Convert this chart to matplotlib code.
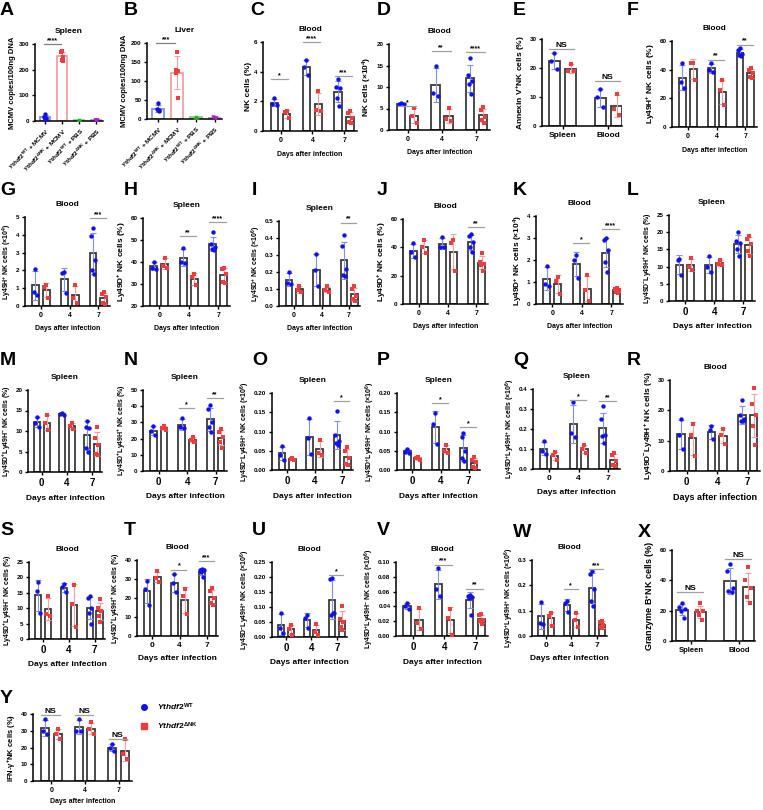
import numpy as np
import matplotlib
matplotlib.use('Agg')
import matplotlib.pyplot as plt
from matplotlib.lines import Line2D

plt.rcParams['font.family'] = ['Liberation Sans', 'DejaVu Sans']
plt.rcParams['font.weight'] = 'bold'
plt.rcParams['axes.labelweight'] = 'bold'
plt.rcParams['axes.titleweight'] = 'bold'
plt.rcParams['mathtext.fontset'] = 'custom'
plt.rcParams['mathtext.rm'] = 'Liberation Sans:bold'
plt.rcParams['mathtext.it'] = 'Liberation Sans:italic:bold'
plt.rcParams['mathtext.bf'] = 'Liberation Sans:bold'

W, H = 763, 810
WT_C, KO_C = '#1010f0', '#f03c3c'
WT_E, KO_E = '#8090f0', '#f4a0a0'

DAYS = ['0', '4', '7']
TISSUES = ['Spleen', 'Blood']
WT_LAB = r'$\mathit{Ythdf2}^{\mathrm{WT}}$'
KO_LAB = r'$\mathit{Ythdf2}^{\mathrm{\Delta NK}}$'

# ---- data: points per group, significance (group, text, y) ----
A_groups = [WT_LAB + ' + MCMV', KO_LAB + ' + MCMV', WT_LAB + ' + PBS', KO_LAB + ' + PBS']
A_pts = [[28, 15, 12, 8, 6], [272, 270, 250, 236, 232], [2.5, 3, 3.5], [2, 2.5, 3]]
B_pts = [[42, 27, 25, 23, 20], [176, 129, 127, 122, 56], [4, 4, 4.5], [3, 4, 3]]
A_sig = [(0.4, '****', 300)]
B_sig = [(0.4, '***', 200)]

C_wt = [[2.2, 1.8, 1.75], [4.8, 4.3, 3.8], [3.5, 3.0, 2.9, 2.2, 1.7]]
C_ko = [[1.35, 1.3, 0.85], [2.7, 1.4, 1.35], [1.35, 1.2, 0.9, 0.6, 0.55]]
C_sig = [(0, '*', 3.5), (1, '****', 6.0), (2, '***', 3.7)]

D_wt = [[6.2, 6.1, 6.0], [15.0, 8.5, 7.9], [16.8, 12.7, 11.4, 10.8, 8.4]]
D_ko = [[5.1, 3.3, 1.7], [5.1, 2.5, 2.0], [5.3, 4.6, 3.0, 2.4, 1.6]]
D_sig = [(0, '*', 5.6), (1, '**', 18.4), (2, '****', 18.1)]

E_wt = [[25.3, 22.3, 19.6], [12.7, 10.0, 6.5]]
E_ko = [[21.5, 18.9, 18.8], [11.2, 5.8, 3.8]]
E_sig = [(0, 'NS', 26.5), (1, 'NS', 15.5)]

F_wt = [[44.5, 31.5, 27.5], [44.5, 40.0, 38.5], [55, 53.5, 51, 50, 49.5]]
F_ko = [[45, 44.5, 32.5], [32.5, 25.5, 15.5], [41, 39.5, 37.5, 35, 34]]
F_sig = [(1, '**', 47), (2, '**', 57.4)]

G_wt = [[2.1, 0.8, 0.6], [1.9, 1.85, 0.75], [4.4, 3.95, 2.6, 2.0, 1.8]]
G_ko = [[1.2, 1.05, 0.45], [1.2, 0.45, 0.15], [0.8, 0.65, 0.5, 0.15, 0.1]]
G_sig = [(2, '***', 4.94)]

H_wt = [[40, 37.5, 37.0], [46.5, 40, 39.5], [53.5, 48, 47, 46, 45.5]]
H_ko = [[42, 38, 37.5], [34.5, 33, 29.5], [37.5, 37, 34.5, 31, 30.5]]
H_sig = [(1, '**', 51.7), (2, '****', 58.2)]

I_wt = [[0.2, 0.135, 0.13], [0.305, 0.21, 0.115], [0.415, 0.355, 0.22, 0.18, 0.175]]
I_ko = [[0.12, 0.095, 0.08], [0.115, 0.095, 0.085], [0.115, 0.1, 0.06, 0.04, 0.03]]
I_sig = [(2, '**', 0.49)]

J_wt = [[43, 36.5, 33], [47.5, 40.5, 40], [49.5, 48, 44, 40, 37]]
J_ko = [[45, 40.5, 36], [45, 43, 23], [36, 30, 28.5, 27.5, 23.5]]
J_sig = [(2, '**', 54.4)]

K_wt = [[1.75, 0.9, 0.8], [2.25, 2.0, 1.2], [3.0, 2.9, 2.45, 1.9, 1.45]]
K_ko = [[1.25, 1.05, 0.45], [1.3, 0.65, 0.15], [0.75, 0.7, 0.65, 0.55, 0.5]]
K_sig = [(1, '*', 2.76), (2, '****', 3.4)]

L_wt = [[12.3, 12.0, 7.5], [13.0, 10.0, 8.5], [20, 17.5, 17, 15, 13]]
L_ko = [[12.5, 10.0, 9.0], [12.0, 10.7, 10.5], [19, 18, 16.5, 14.5, 13]]

M_wt = [[13.5, 12.0, 11.0], [14.3, 14.1, 13.9], [12.4, 11, 10.8, 5.8, 5]]
M_ko = [[13.8, 12.0, 10.2], [12.0, 11.2, 10.5], [10.9, 8.2, 6.7, 4.3, 4.1]]

N_wt = [[28, 24.5, 22.5], [32.5, 27, 26.5], [40.5, 38, 30, 27, 24]]
N_ko = [[27.5, 26.5, 25.5], [21, 19, 18], [26, 24, 21, 18, 14]]
N_sig = [(1, '*', 39), (2, '**', 44.9)]

O_wt = [[0.062, 0.04, 0.027], [0.135, 0.083, 0.042], [0.152, 0.09, 0.075, 0.07, 0.065]]
O_ko = [[0.031, 0.029, 0.025], [0.078, 0.045, 0.04], [0.06, 0.05, 0.03, 0.015, 0.012]]
O_sig = [(2, '*', 0.179)]

P_wt = [[0.055, 0.048, 0.045], [0.148, 0.12, 0.068], [0.097, 0.085, 0.05, 0.03, 0.023]]
P_ko = [[0.034, 0.032, 0.025], [0.065, 0.05, 0.045], [0.035, 0.025, 0.02, 0.008, 0.005]]
P_sig = [(1, '*', 0.174), (2, '*', 0.112)]

Q_wt = [[0.14, 0.09, 0.075], [0.335, 0.18, 0.16], [0.315, 0.25, 0.17, 0.165, 0.13]]
Q_ko = [[0.085, 0.07, 0.045], [0.12, 0.1, 0.08], [0.08, 0.07, 0.04, 0.02, 0.015]]
Q_sig = [(1, '*', 0.345), (2, '**', 0.34)]

R_wt = [[17, 12, 7.3], [15, 13.5, 10.5], [23.5, 18.5, 17, 16.5, 16.5]]
R_ko = [[15.5, 12, 4.8], [14, 12, 9], [27.5, 22, 18.5, 15, 8.5]]

S_wt = [[18.5, 15.5, 8.5], [18, 16.8, 15.2], [14, 13.2, 10, 8.5, 5]]
S_ko = [[14, 8, 7.5], [17.5, 11.5, 3.8], [13, 10, 9, 7.5, 5.5]]

T_wt = [[29, 25, 16.5], [32.5, 28, 23], [35.5, 35, 34.5, 33.5, 31]]
T_ko = [[34, 30.5, 28.5], [24.5, 21, 11.5], [25.5, 23.5, 20, 17.5, 16.5]]
T_sig = [(1, '*', 35), (2, '***', 39.6)]

U_wt = [[0.08, 0.03, 0.015], [0.075, 0.062, 0.03], [0.197, 0.192, 0.08, 0.075, 0.08]]
U_ko = [[0.04, 0.028, 0.008], [0.042, 0.018, 0.006], [0.105, 0.06, 0.05, 0.035, 0.025]]
U_sig = [(2, '*', 0.207)]

V_wt = [[0.045, 0.04, 0.036], [0.092, 0.063, 0.054], [0.055, 0.054, 0.053, 0.052, 0.029]]
V_ko = [[0.038, 0.018, 0.01], [0.037, 0.025, 0.002], [0.03, 0.028, 0.022, 0.02, 0.016]]
V_sig = [(1, '***', 0.0964), (2, '**', 0.064)]

W_wt = [[0.135, 0.05, 0.048], [0.14, 0.13, 0.095], [0.255, 0.245, 0.185, 0.14, 0.12]]
W_ko = [[0.09, 0.08, 0.04], [0.09, 0.065, 0.035], [0.06, 0.055, 0.045, 0.035, 0.03]]
W_sig = [(1, '*', 0.184), (2, '***', 0.263)]

X_wt = [[25, 22.5, 21, 20, 15], [51, 46, 35, 33, 32]]
X_ko = [[25, 20, 19.5, 17, 14], [49, 40, 35, 29, 25]]
X_sig = [(0, 'NS', 32), (1, 'NS', 54)]

Y_wt = [[37, 30, 28], [37, 30, 30], [22, 20, 18]]
Y_ko = [[31, 28, 25], [35, 31, 28], [25, 16, 13]]
Y_sig = [(0, 'NS', 39.5), (1, 'NS', 39.5), (2, 'NS', 25)]

# ---- layout (pixel boxes: left, top, right, bottom of the axes) ----
BOX = {
    'A': (35, 44, 103, 121), 'B': (147, 43, 222, 119), 'C': (263, 42, 357, 131),
    'D': (389, 44, 490, 130), 'E': (542, 39, 622, 126), 'F': (672, 41, 757, 127),
    'G': (25, 217, 110, 306), 'H': (143, 218, 230, 306), 'I': (279, 221, 360, 306),
    'J': (403, 219, 488, 304), 'K': (536, 216, 623, 304), 'L': (669, 215, 755, 301),
    'M': (28, 390, 102, 472), 'N': (143, 390, 227, 471), 'O': (272, 393, 353, 470),
    'P': (397, 393, 480, 470), 'Q': (533, 389, 620, 469), 'R': (670, 380, 760, 471),
    'S': (29, 562, 105, 639), 'T': (137, 560, 218, 636), 'U': (272, 562, 347, 637),
    'V': (396, 562, 488, 636), 'W': (532, 560, 607, 636), 'X': (672, 550, 755, 641),
    'Y': (33, 714, 132, 781),
}
LETTER = {
    'A': (0, 2), 'B': (124, 2), 'C': (250, 2), 'D': (377, 2), 'E': (513, 2), 'F': (627, 2),
    'G': (0, 182), 'H': (124, 182), 'I': (252, 182), 'J': (377, 182), 'K': (513, 182), 'L': (627, 182),
    'M': (0, 352), 'N': (124, 352), 'O': (252, 352), 'P': (377, 352), 'Q': (513, 352), 'R': (627, 352),
    'S': (0, 522), 'T': (124, 522), 'U': (252, 522), 'V': (377, 522), 'W': (513, 524), 'X': (638, 524),
    'Y': (0, 690),
}

fig = plt.figure(figsize=(W / 100, H / 100), dpi=100)


def make_ax(key):
    x0, y0, x1, y1 = BOX[key]
    ax = fig.add_axes([x0 / W, 1 - y1 / H, (x1 - x0) / W, (y1 - y0) / H])
    lx, ly = LETTER[key]
    fig.text(lx / W, 1 - ly / H, key, fontsize=14, fontweight='bold', va='top', ha='left')
    for s in ['top', 'right']:
        ax.spines[s].set_visible(False)
    for s in ['left', 'bottom']:
        ax.spines[s].set_linewidth(1.1)
    ax.tick_params(length=2.5, width=1, pad=1.5, labelsize=4.5)
    return ax


def offsets(n):
    pat = [0, -1, 1, -0.5, 0.5, -0.75, 0.75]
    return np.array(pat[:n]) * 0.065


def group(ax, x, pts, color, ecolor, marker, edge='#3a3a3a', width=0.24):
    pts = np.asarray(pts, float)
    m, sd = pts.mean(), pts.std(ddof=1)
    ax.bar(x, m, width, facecolor='white', edgecolor=edge, lw=1.3, zorder=1)
    ax.errorbar(x, m, yerr=sd, color=ecolor, lw=0.8, capsize=2, capthick=0.8, zorder=2)
    ax.scatter(x + offsets(len(pts)), pts, s=10, c=color, marker=marker, lw=0, zorder=3)


def sig_marks(ax, sig, xs, half=(0.3, 0.25), size=5, color='#a0a0a0'):
    for g, txt, y in sig:
        x = xs[g] if isinstance(g, int) else g
        ax.plot([x - half[0], x + half[1]], [y, y], color=color, lw=0.9, clip_on=False, zorder=4)
        fs = 6 if txt == 'NS' else size
        ax.text(x - (half[0] - half[1]) / 2, y, txt, ha='center', va='bottom', fontsize=fs, zorder=5)


def panel(key, wt, ko, ylim, yticks, ylabel, title=None, sig=(), cats=DAYS,
          xlabel='Days after infection', xlim=(-0.55, 2.4), off=0.19, yfmt='{:g}',
          ysize=5, xsize=5, catsize=5, xpad=5):
    ax = make_ax(key)
    xs = np.arange(len(cats))
    for i in range(len(cats)):
        group(ax, xs[i] - off, wt[i], WT_C, WT_E, 'o')
        group(ax, xs[i] + off, ko[i], KO_C, KO_E, 's')
    ax.set_xlim(*xlim)
    ax.set_ylim(*ylim)
    ax.set_yticks(yticks)
    ax.set_yticklabels([yfmt.format(t) for t in yticks])
    ax.set_xticks(xs)
    ax.set_xticklabels(cats, fontsize=catsize)
    ax.set_ylabel(ylabel, fontsize=ysize, labelpad=1.5)
    if xlabel:
        ax.set_xlabel(xlabel, fontsize=xsize, labelpad=xpad)
    if title:
        ax.set_title(title, fontsize=6, pad=8)
    sig_marks(ax, sig, xs)
    return ax


# A and B: viral load
def viral(key, pts, ylim, yticks, title, sig):
    ax = make_ax(key)
    cols = [WT_C, KO_C, '#20b020', '#b020d0']
    ecols = [WT_E, KO_E, '#80d080', '#d080e0']
    marks = ['o', 's', '^', 'v']
    for i, p in enumerate(pts):
        group(ax, i, p, cols[i], ecols[i], marks[i], edge=ecols[i], width=0.62)
    ax.set_xlim(-0.6, 3.4)
    ax.set_ylim(*ylim)
    ax.set_yticks(yticks)
    ax.set_xticks(range(4))
    ax.set_xticklabels(A_groups, rotation=45, ha='right', rotation_mode='anchor', fontsize=4.5)
    ax.set_ylabel('MCMV copies/100ng DNA', fontsize=5.5, labelpad=2)
    ax.set_title(title, fontsize=6, pad=8)
    sig_marks(ax, sig, range(4), half=(0.5, 0.5), color='#808080')


viral('A', A_pts, (0, 300), [0, 100, 200, 300], 'Spleen', A_sig)
viral('B', B_pts, (0, 200), [0, 50, 100, 150, 200], 'Liver', B_sig)

panel('C', C_wt, C_ko, (0, 6), [0, 2, 4, 6], 'NK cells (%)', 'Blood', C_sig, ysize=6)
panel('D', D_wt, D_ko, (0, 20), [0, 5, 10, 15, 20], 'NK cells (×10$^{4}$)', 'Blood', D_sig, ysize=6)
panel('E', E_wt, E_ko, (0, 30), [0, 10, 20, 30], 'Annexin V$^{+}$NK cells (%)', None, E_sig,
      cats=TISSUES, xlabel=None, xlim=(-0.45, 1.3), off=0.18, catsize=6, ysize=6)
panel('F', F_wt, F_ko, (0, 60), [0, 20, 40, 60], 'Ly49H$^{+}$ NK cells (%)', 'Blood', F_sig, ysize=6)

panel('G', G_wt, G_ko, (0, 5), [0, 1, 2, 3, 4, 5], 'Ly49H$^{+}$ NK cells (×10$^{4}$)', 'Blood', G_sig)
panel('H', H_wt, H_ko, (20, 60), [20, 30, 40, 50, 60], 'Ly49D$^{+}$ NK cells (%)', 'Spleen', H_sig, ysize=6)
panel('I', I_wt, I_ko, (0, 0.5), [0, 0.1, 0.2, 0.3, 0.4, 0.5], 'Ly49D$^{+}$ NK cells (×10$^{6}$)', 'Spleen',
      I_sig, yfmt='{:.1f}')
panel('J', J_wt, J_ko, (0, 60), [0, 20, 40, 60], 'Ly49D$^{+}$ NK cells (%)', 'Blood', J_sig, ysize=6)
panel('K', K_wt, K_ko, (0, 4), [0, 1, 2, 3, 4], 'Ly49D$^{+}$ NK cells (×10$^{4}$)', 'Blood', K_sig, ysize=6)
panel('L', L_wt, L_ko, (0, 25), [0, 5, 10, 15, 20, 25], 'Ly49D$^{-}$Ly49H$^{+}$ NK cells (%)', 'Spleen',
      catsize=7, xsize=6)

panel('M', M_wt, M_ko, (0, 20), [0, 5, 10, 15, 20], 'Ly49D$^{+}$Ly49H$^{-}$ NK cells (%)', 'Spleen',
      catsize=7, xsize=6)
panel('N', N_wt, N_ko, (0, 50), [0, 10, 20, 30, 40, 50], 'Ly49D$^{+}$Ly49H$^{+}$ NK cells (%)', 'Spleen',
      N_sig, catsize=7, xsize=6)
panel('O', O_wt, O_ko, (0, 0.2), [0, 0.05, 0.1, 0.15, 0.2], 'Ly49D$^{-}$Ly49H$^{+}$ NK cells (×10$^{6}$)',
      'Spleen', O_sig, yfmt='{:.2f}', catsize=7, xsize=6)
panel('P', P_wt, P_ko, (0, 0.2), [0, 0.05, 0.1, 0.15, 0.2], 'Ly49D$^{+}$Ly49H$^{-}$ NK cells (×10$^{6}$)',
      'Spleen', P_sig, yfmt='{:.2f}', catsize=7, xsize=6)
panel('Q', Q_wt, Q_ko, (0, 0.4), [0, 0.1, 0.2, 0.3, 0.4], 'Ly49D$^{+}$Ly49H$^{+}$ NK cells (×10$^{6}$)',
      'Spleen', Q_sig, yfmt='{:.1f}', catsize=6, xsize=6)
panel('R', R_wt, R_ko, (0, 30), [0, 10, 20, 30], 'Ly49D$^{-}$Ly49H$^{+}$ NK cells (%)', 'Blood',
      catsize=7, xsize=6.5, ysize=6)

panel('S', S_wt, S_ko, (0, 25), [0, 5, 10, 15, 20, 25], 'Ly49D$^{+}$Ly49H$^{-}$ NK cells (%)', 'Blood',
      catsize=7, xsize=6)
panel('T', T_wt, T_ko, (0, 40), [0, 10, 20, 30, 40], 'Ly49D$^{+}$Ly49H$^{+}$ NK cells (%)', 'Blood',
      T_sig, catsize=6, xsize=6)
panel('U', U_wt, U_ko, (0, 0.25), [0, 0.05, 0.1, 0.15, 0.2, 0.25], 'Ly49D$^{-}$Ly49H$^{+}$ NK cells (×10$^{6}$)',
      'Blood', U_sig, yfmt='{:.2f}', catsize=7, xsize=6)
panel('V', V_wt, V_ko, (0, 0.1), [0, 0.02, 0.04, 0.06, 0.08, 0.1], 'Ly49D$^{+}$Ly49H$^{-}$ NK cells (×10$^{6}$)',
      'Blood', V_sig, yfmt='{:.2f}', catsize=7, xsize=6)
panel('W', W_wt, W_ko, (0, 0.3), [0, 0.1, 0.2, 0.3], 'Ly49D$^{+}$Ly49H$^{+}$ NK cells (×10$^{6}$)',
      'Blood', W_sig, yfmt='{:.1f}', catsize=6, xsize=6)
panel('X', X_wt, X_ko, (0, 60), [0, 20, 40, 60], 'Granzyme B$^{+}$NK cells (%)', None, X_sig,
      cats=TISSUES, xlabel=None, xlim=(-0.4, 1.33), off=0.19, catsize=5.5, ysize=6.5)
panel('Y', Y_wt, Y_ko, (0, 40), [0, 10, 20, 30, 40], 'IFN-γ$^{+}$NK cells (%)', None, Y_sig, ysize=5.5,
      xpad=3)

handles = [Line2D([], [], marker='o', color=WT_C, ls='', ms=4),
           Line2D([], [], marker='s', color=KO_C, ls='', ms=4)]
fig.legend(handles, [WT_LAB, KO_LAB], loc='upper left', bbox_to_anchor=(128 / W, 1 - 694 / H),
           frameon=False, fontsize=6, handletextpad=0.6, labelspacing=0.9)

fig.savefig('out.png', dpi=100)
